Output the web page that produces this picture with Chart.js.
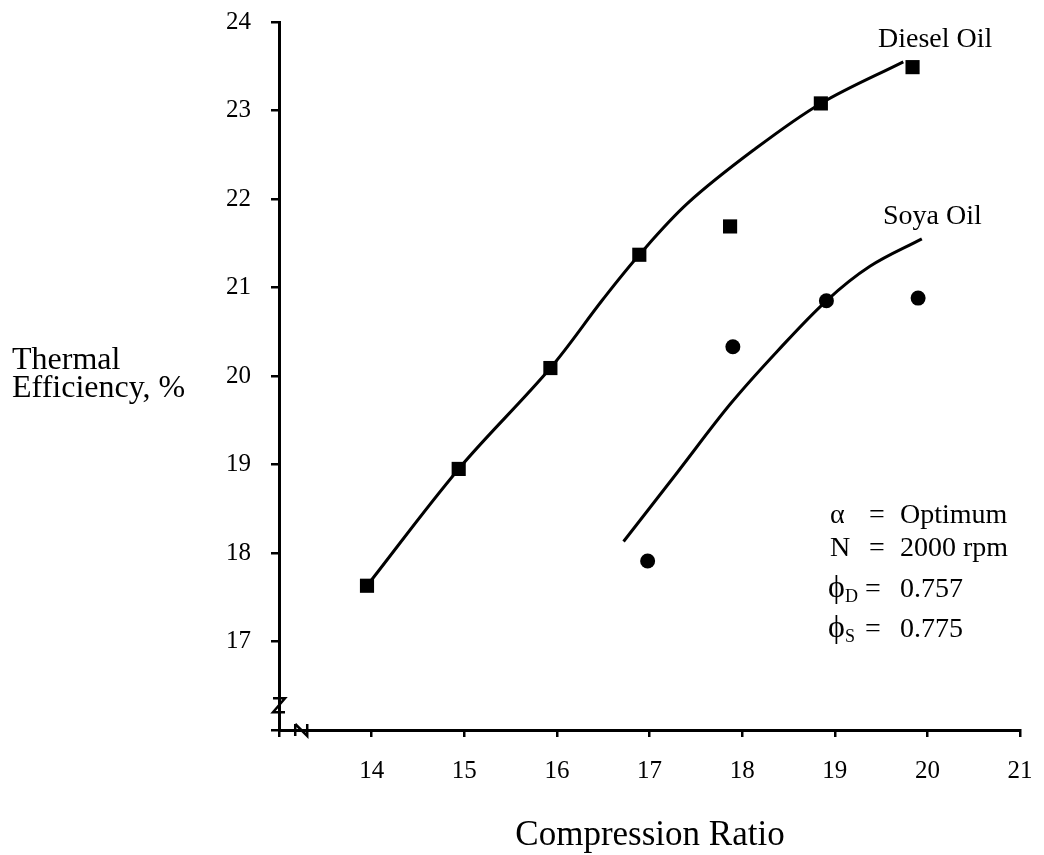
<!DOCTYPE html>
<html>
<head>
<meta charset="utf-8">
<script src="https://cdn.jsdelivr.net/npm/chart.js@4/dist/chart.umd.min.js"></script>
<style>
  html, body { margin: 0; padding: 0; background: #fff; }
  #wrap { width: 1044px; height: 855px; }
</style>
</head>
<body>
<div id="wrap"><canvas id="grafico" width="1044" height="855"></canvas></div>
<script>
// measured points
const dieselRatio = [13.95, 14.94, 15.93, 16.89, 17.87, 18.85, 19.84];
const dieselEff = [17.63, 18.95, 20.09, 21.37, 21.69, 23.08, 23.49];
const soyaRatio = [16.98, 17.90, 18.91, 19.90];
const soyaEff = [17.91, 20.33, 20.85, 20.88];

// hand-drawn fitted curves
const dieselCurveX = [13.95, 14.94, 15.93, 16.50, 16.89, 17.41, 18.12, 18.85, 19.74];
const dieselCurveY = [17.63, 18.95, 20.09, 20.87, 21.37, 21.95, 22.55, 23.08, 23.55];
const soyaCurveX = [16.72, 17.30, 17.87, 18.38, 18.91, 19.38, 19.94];
const soyaCurveY = [18.13, 18.91, 19.68, 20.28, 20.85, 21.24, 21.55];

const xHidden = [13];
const yHidden = [16];

const serif = "'Liberation Serif', 'DejaVu Serif', serif";

function pts(xs, ys) {
  return xs.map((x, i) => ({ x: x, y: ys[i] }));
}

const textos = {
  id: 'textos',
  afterDraw(chart) {
    const ctx = chart.ctx;
    const xs = chart.scales.x, ys = chart.scales.y;
    ctx.save();
    ctx.fillStyle = '#000';
    ctx.strokeStyle = '#000';
    ctx.textBaseline = 'alphabetic';

    // axis break marks
    ctx.lineWidth = 2.5;
    const ax = xs.left, zy = ys.getPixelForValue(16.28);
    ctx.beginPath();
    ctx.moveTo(ax - 6, zy - 7);
    ctx.lineTo(ax + 6, zy - 7);
    ctx.lineTo(ax - 6, zy + 7);
    ctx.lineTo(ax + 6, zy + 7);
    ctx.stroke();
    const nx = xs.getPixelForValue(13.24), by = ys.bottom;
    ctx.beginPath();
    ctx.moveTo(nx - 6, by - 6);
    ctx.lineTo(nx - 6, by + 6);
    ctx.moveTo(nx - 6, by - 6);
    ctx.lineTo(nx + 6, by + 6);
    ctx.lineTo(nx + 6, by - 6);
    ctx.stroke();

    // series labels
    ctx.font = '28px ' + serif;
    ctx.textAlign = 'left';
    ctx.fillText('Diesel Oil', 878, 47);
    ctx.fillText('Soya Oil', 883, 224);

    // axis titles
    ctx.font = '32px ' + serif;
    ctx.fillText('Thermal', 12, 369);
    ctx.fillText('Efficiency, %', 12, 397);
    ctx.textAlign = 'center';
    ctx.font = '35px ' + serif;
    ctx.fillText('Compression Ratio', 650, 845);

    // conditions block
    ctx.textAlign = 'left';
    ctx.font = '28px ' + serif;
    ctx.fillText('\u03B1', 830, 523);
    ctx.fillText('=', 869, 523);
    ctx.fillText('Optimum', 900, 523);
    ctx.fillText('N', 830, 556);
    ctx.fillText('=', 869, 556);
    ctx.fillText('2000 rpm', 900, 556);
    ctx.font = '32px ' + serif;
    ctx.fillText('\u03D5', 828, 597);
    ctx.fillText('\u03D5', 828, 637);
    ctx.font = '18px ' + serif;
    ctx.fillText('D', 845, 602);
    ctx.fillText('S', 845, 642);
    ctx.font = '28px ' + serif;
    ctx.fillText('=', 865, 597);
    ctx.fillText('0.757', 900, 597);
    ctx.fillText('=', 865, 637);
    ctx.fillText('0.775', 900, 637);
    ctx.restore();
  }
};

const ctx = document.getElementById('grafico').getContext('2d');
new Chart(ctx, {
  type: 'scatter',
  data: {
    datasets: [
      {
        label: 'Diesel Oil curve',
        data: pts(dieselCurveX, dieselCurveY),
        showLine: true,
        borderColor: '#000',
        borderWidth: 3,
        pointRadius: 0,
        tension: 0.35
      },
      {
        label: 'Soya Oil curve',
        data: pts(soyaCurveX, soyaCurveY),
        showLine: true,
        borderColor: '#000',
        borderWidth: 3,
        pointRadius: 0,
        tension: 0.35
      },
      {
        label: 'Diesel Oil',
        data: pts(dieselRatio, dieselEff),
        pointStyle: 'rect',
        pointRadius: 10,
        backgroundColor: '#000',
        borderColor: '#000',
        borderWidth: 0
      },
      {
        label: 'Soya Oil',
        data: pts(soyaRatio, soyaEff),
        pointStyle: 'circle',
        pointRadius: 7.5,
        backgroundColor: '#000',
        borderColor: '#000',
        borderWidth: 0
      }
    ]
  },
  options: {
    responsive: false,
    animation: false,
    layout: { padding: { top: 22, right: 24, left: 0, bottom: 0 } },
    plugins: {
      legend: { display: false },
      tooltip: { enabled: false }
    },
    scales: {
      x: {
        type: 'linear',
        min: 13,
        max: 21,
        afterFit: s => { s.height = 125; s.paddingLeft = 0; s.paddingRight = 0; },
        border: { color: '#000', width: 3 },
        grid: { drawOnChartArea: false, drawTicks: true, tickLength: 7, color: '#000', lineWidth: 2.5 },
        ticks: {
          stepSize: 1,
          color: '#000',
          padding: 19,
          font: { family: serif, size: 25 },
          callback: v => xHidden.includes(v) ? '' : String(v)
        }
      },
      y: {
        type: 'linear',
        min: 16,
        max: 24,
        afterFit: s => { s.width = 279; s.paddingTop = 0; s.paddingBottom = 0; },
        border: { color: '#000', width: 3 },
        grid: { drawOnChartArea: false, drawTicks: true, tickLength: 8, color: '#000', lineWidth: 2.5 },
        ticks: {
          stepSize: 1,
          color: '#000',
          padding: 20,
          font: { family: serif, size: 25 },
          callback: v => yHidden.includes(v) ? '' : String(v)
        }
      }
    }
  },
  plugins: [textos]
});
</script>
</body>
</html>
